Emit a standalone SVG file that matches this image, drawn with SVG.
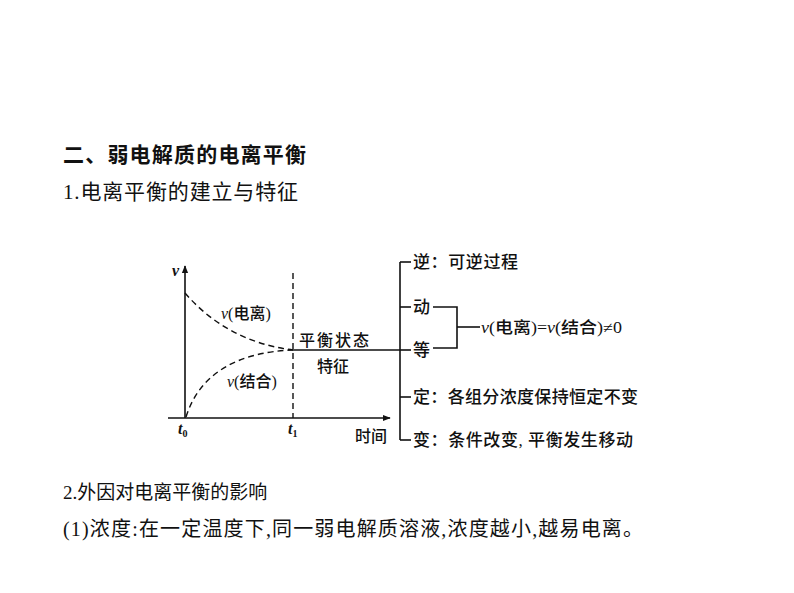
<svg xmlns="http://www.w3.org/2000/svg" width="794" height="593" viewBox="0 0 794 593">
<style>
.t{font-family:"Liberation Serif","Noto Sans CJK SC",serif;fill:#111;}
.s{font-family:"Liberation Serif","Noto Sans CJK SC",serif;fill:#111;font-size:16px;font-weight:500;}
.f{font-size:17px;}
.i{font-style:italic;}
.ln{stroke:#111;fill:none;stroke-width:1.6;}
.dash{stroke:#111;fill:none;stroke-width:1.4;stroke-dasharray:6,4;}
</style>
<defs>
<marker id="ar" viewBox="0 0 10 10" refX="9" refY="5" markerWidth="8" markerHeight="8" markerUnits="userSpaceOnUse" orient="auto">
<path d="M0,1 L10,5 L0,9 z" fill="#111"/>
</marker>
</defs>
<rect width="794" height="593" fill="#fff"/>
<g id="headings">
<text class="t" x="63" y="162" font-size="21" font-weight="bold" textLength="243" lengthAdjust="spacing">二、弱电解质的电离平衡</text>
<text class="t" x="63" y="199" font-size="21" textLength="235" lengthAdjust="spacing">1.电离平衡的建立与特征</text>
<text class="t" x="63" y="499" font-size="19">2.外因对电离平衡的影响</text>
<text class="t" x="63" y="536" font-size="20" textLength="580" lengthAdjust="spacing">(1)浓度:在一定温度下,同一弱电解质溶液,浓度越小,越易电离。</text>
</g>
<g id="connectors">
<line class="ln" x1="185" y1="418" x2="185" y2="266" stroke-width="2" marker-end="url(#ar)"/>
<line class="ln" x1="168" y1="418" x2="390" y2="418" marker-end="url(#ar)"/>
<line class="dash" x1="293" y1="273" x2="293" y2="418" stroke-width="1.8"/>
<path class="dash" d="M185,293 C210,322 245,344 293,350"/>
<path class="dash" d="M186,417 C200,372 240,352 293,350"/>
<line class="ln" x1="293" y1="350" x2="400" y2="350"/>
<line class="ln" x1="400" y1="262" x2="400" y2="440"/>
<line class="ln" x1="400" y1="262" x2="411" y2="262"/>
<line class="ln" x1="400" y1="307" x2="411" y2="307"/>
<line class="ln" x1="400" y1="350" x2="411" y2="350"/>
<line class="ln" x1="400" y1="397" x2="411" y2="397"/>
<line class="ln" x1="400" y1="440" x2="411" y2="440"/>
<polyline class="ln" points="433,307 457,307 457,348 433,348"/>
<line class="ln" x1="457" y1="327" x2="480" y2="327"/>
</g>
<g id="graph-labels">
<text class="s i" x="172" y="276" style="font-weight:bold">v</text>
<text class="s" x="221" y="319"><tspan class="i">v</tspan>(电离)</text>
<text class="s" x="227" y="387"><tspan class="i">v</tspan>(结合)</text>
<text class="s" x="299" y="346" textLength="70" lengthAdjust="spacing">平衡状态</text>
<text class="s" x="317" y="372">特征</text>
<text class="s i" x="178" y="434" style="font-weight:bold">t<tspan font-size="10" dy="3" font-style="normal">0</tspan></text>
<text class="s i" x="288" y="434" style="font-weight:bold">t<tspan font-size="10" dy="3" font-style="normal">1</tspan></text>
<text class="s" x="355" y="442">时间</text>
</g>
<g id="features">
<text class="s f" x="413" y="268" textLength="105" lengthAdjust="spacing">逆：可逆过程</text>
<text class="s f" x="413" y="313">动</text>
<text class="s f" x="413" y="356">等</text>
<text class="s" x="481" y="333" textLength="141" lengthAdjust="spacingAndGlyphs"><tspan class="i">v</tspan>(电离)=<tspan class="i">v</tspan>(结合)≠0</text>
<text class="s f" x="413" y="403" textLength="225" lengthAdjust="spacing">定：各组分浓度保持恒定不变</text>
<text class="s f" x="413" y="446" textLength="220" lengthAdjust="spacing">变：条件改变, 平衡发生移动</text>
</g>
</svg>
